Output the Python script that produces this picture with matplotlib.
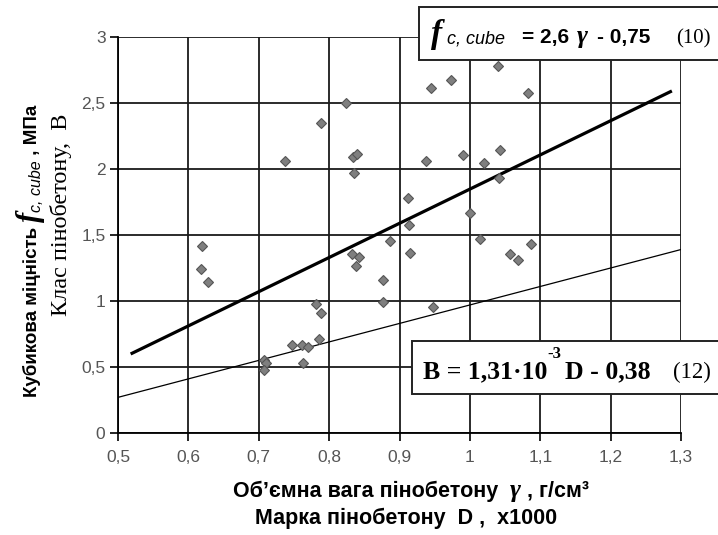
import numpy as np
import matplotlib
matplotlib.use("Agg")
import matplotlib.pyplot as plt
from matplotlib.patches import Rectangle

plt.rcParams['font.family'] = ['Liberation Sans', 'DejaVu Sans']

# експериментальні точки: об'ємна вага (г/см3) і міцність (МПа)
gamma_pts = [0.620, 0.618, 0.628, 0.708, 0.711, 0.707, 0.737, 0.747, 0.761,
             0.763, 0.770, 0.781, 0.788, 0.786, 0.788, 0.824, 0.834, 0.839,
             0.836, 0.833, 0.842, 0.838, 0.877, 0.876, 0.887, 0.912, 0.914,
             0.915, 0.937, 0.945, 0.947, 0.973, 0.990, 1.000, 1.015, 1.020,
             1.040, 1.043, 1.042, 1.057, 1.068, 1.083, 1.087]
f_pts = [1.42, 1.245, 1.144, 0.55, 0.53, 0.475, 2.06, 0.664, 0.669,
         0.533, 0.654, 0.977, 0.911, 0.715, 2.35, 2.50, 2.09, 2.11,
         1.97, 1.356, 1.331, 1.267, 1.159, 0.99, 1.457, 1.78, 1.576,
         1.361, 2.061, 2.616, 0.955, 2.674, 2.106, 1.664, 1.472, 2.048,
         2.78, 2.144, 1.934, 1.354, 1.31, 2.576, 1.43]

# лінії регресії (кінцеві точки, як на рисунку)
fit10_x = [0.52, 1.285]
fit10_y = [0.604, 2.586]
fit12_x = [0.5, 1.3]
fit12_y = [0.27, 1.39]

xticks = [0.5, 0.6, 0.7, 0.8, 0.9, 1.0, 1.1, 1.2, 1.3]
xtick_labels = ['0,5', '0,6', '0,7', '0,8', '0,9', '1', '1,1', '1,2', '1,3']
yticks = [0, 0.5, 1, 1.5, 2, 2.5, 3]
ytick_labels = ['0', '0,5', '1', '1,5', '2', '2,5', '3']

W, H = 718, 535
fig = plt.figure(figsize=(W / 100, H / 100), dpi=100)
ax = fig.add_axes([118 / W, 1 - 433 / H, (681 - 118) / W, (433 - 37) / H])
renderer = fig.canvas.get_renderer()


def fx(px):
    return px / W


def fy(py):
    return 1 - py / H


def chain(x0, y0, pieces, vertical=False):
    # розставляє шматки тексту один за одним (px від лівого верхнього кута)
    pos = x0 if not vertical else y0
    for s, off, kw in pieces:
        if vertical:
            t = fig.text(fx(x0 + off), fy(pos), s, rotation=90,
                         rotation_mode='anchor', ha='left', va='baseline', **kw)
            bb = t.get_window_extent(renderer)
            pos -= bb.height
        else:
            t = fig.text(fx(pos), fy(y0 + off), s, ha='left', va='baseline', **kw)
            bb = t.get_window_extent(renderer)
            pos += bb.width


ax.plot(fit10_x, fit10_y, color='black', lw=2.3, zorder=3)
ax.plot(fit12_x, fit12_y, color='black', lw=0.9, zorder=3)
ax.plot(gamma_pts, f_pts, 'D', ms=5.6, color='#7f7f7f', mec='#555555',
        mew=0.8, zorder=4, clip_on=False)

ax.set_xlim(0.5, 1.3)
ax.set_ylim(0, 3)
ax.set_xticks(xticks)
ax.set_xticklabels(xtick_labels)
ax.set_yticks(yticks)
ax.set_yticklabels(ytick_labels)
ax.grid(True, color='#1a1a1a', lw=1.3)
ax.set_axisbelow(True)
for s in ['top', 'right']:
    ax.spines[s].set_visible(False)
for s in ['left', 'bottom']:
    ax.spines[s].set_linewidth(1.3)
ax.tick_params(direction='out', length=6, width=1.2, labelsize=12.5,
               labelcolor='#555555')
ax.tick_params(axis='x', pad=6)
ax.tick_params(axis='y', pad=3)

# підписи осей
bold = dict(fontsize=13.5, fontweight='bold')
chain(37, 397, [
    ("Кубикова міцність ", 0, bold),
    ("f", 1, dict(fontsize=22, family='Liberation Serif', style='italic',
                  fontweight='bold')),
    ("c, cube", 4, dict(fontsize=11.5, style='italic')),
    (" , МПа", 0, bold),
], vertical=True)
fig.text(fx(61), fy(215), "Клас пінобетону,  В", rotation=90, ha='center',
         va='center', fontsize=17.5, family='Liberation Serif')

xl = dict(fontsize=15.5, fontweight='bold')
chain(233, 497, [
    ("Об’ємна вага пінобетону  ", 0, xl),
    ("γ", 0, dict(fontsize=19, family='Liberation Serif', style='italic',
                  fontweight='bold')),
    (" , г/см³", 0, xl),
])
chain(255, 524, [("Марка пінобетону  D ,  x1000", 0, xl)])

# рамки з формулами
for x0, y0, y1 in [(419, 7, 60), (412, 341, 394)]:
    fig.add_artist(Rectangle((fx(x0), fy(y1)), fx(W + 20 - x0), (y1 - y0) / H,
                             transform=fig.transFigure, facecolor='white',
                             edgecolor='#222222', lw=1.4, zorder=5))

tb = 43
fig.text(fx(431), fy(tb), "f", fontsize=24, family='Liberation Serif',
         style='italic', fontweight='bold', va='baseline', zorder=6)
fig.text(fx(447), fy(tb), "c, cube", fontsize=13, style='italic',
         va='baseline', zorder=6)
fig.text(fx(522), fy(tb), "= 2,6", fontsize=15, fontweight='bold',
         va='baseline', zorder=6)
fig.text(fx(577), fy(tb), "γ", fontsize=19, family='Liberation Serif',
         style='italic', fontweight='bold', va='baseline', zorder=6)
fig.text(fx(597), fy(tb), "- 0,75", fontsize=15, fontweight='bold',
         va='baseline', zorder=6)
fig.text(fx(676), fy(tb), "(10)", fontsize=15, family='Liberation Serif',
         va='baseline', zorder=6)

bb = 378
fig.text(fx(423), fy(bb), "B = 1,31·10", fontsize=18.5, family='Liberation Serif',
         fontweight='bold', va='baseline', zorder=6)
fig.text(fx(547), fy(358), "-3", fontsize=12, family='Liberation Serif',
         fontweight='bold', va='baseline', zorder=6)
fig.text(fx(565), fy(bb), "D - 0,38", fontsize=18.5, family='Liberation Serif',
         fontweight='bold', va='baseline', zorder=6)
fig.text(fx(673), fy(bb), "(12)", fontsize=16.5, family='Liberation Serif',
         va='baseline', zorder=6)

fig.savefig("out.png", dpi=100, facecolor='white')
